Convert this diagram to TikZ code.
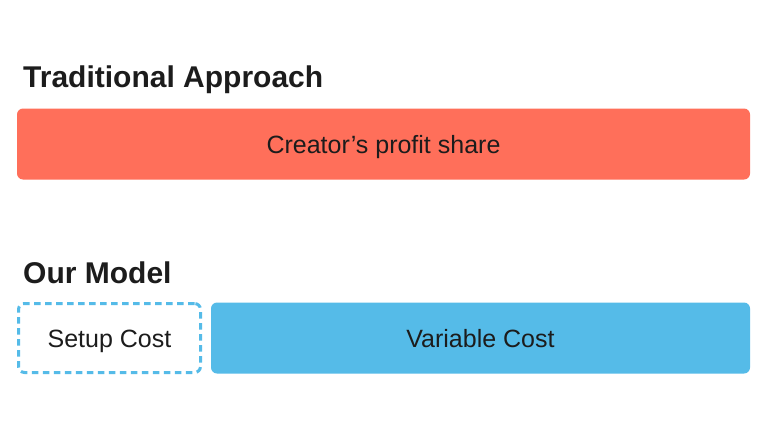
\documentclass[tikz,border=0pt]{standalone}
\usepackage{fontspec}
\setmainfont{Liberation Sans}
\usepackage{tikz}
\usetikzlibrary{positioning}
\definecolor{barred}{HTML}{FF6F5A}
\definecolor{barblue}{HTML}{55BBE8}
\definecolor{inkdark}{HTML}{1C1C1C}
\tikzset{
    heading/.style={anchor=base west,inner sep=0pt,font=\fontsize{30}{33}\selectfont\bfseries,text=inkdark},
    bar/.style={shape=rectangle,rounded corners=6pt,minimum height=71pt,inner sep=0pt,text height=18pt,text depth=0pt,font=\fontsize{25}{28}\selectfont,text=inkdark},
}
\begin{document}
\begin{tikzpicture}[x=1pt,y=-1pt]
                \useasboundingbox[fill=white] (0,0) rectangle (768,436);
                \node[heading] (T) at (23,88) {Traditional Approach};
                \node[heading] (M) at (23,283) {Our Model};
                \node[bar,fill=barred,minimum width=733pt] (P) at (383.5,144) {Creator’s profit share};
                \node[bar,draw=barblue,line width=3pt,dash pattern=on 6.5pt off 4.5pt,minimum width=182pt,minimum height=69pt] (S) at (109.5,338) {Setup Cost};
                \node[bar,fill=barblue,minimum width=539pt] (V) at (480.5,338) {Variable Cost};
            \end{tikzpicture}
\end{document}
